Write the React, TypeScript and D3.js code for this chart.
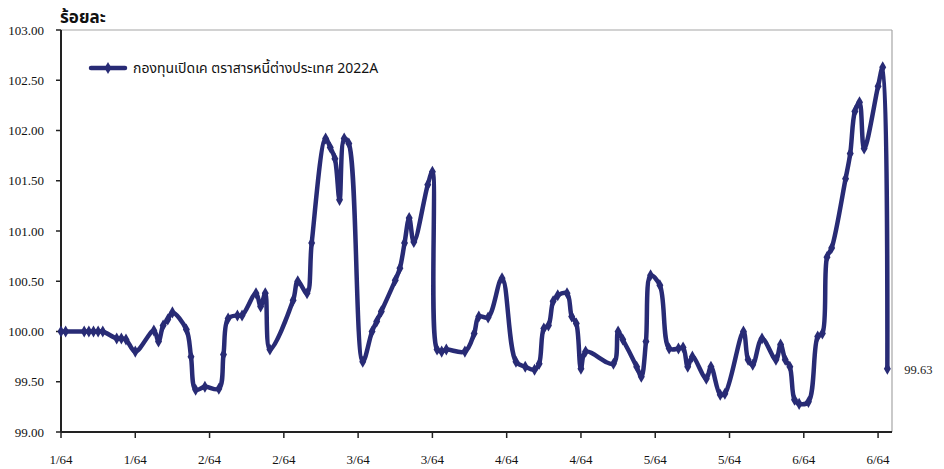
import React from "react";
import * as d3 from "d3";

const dates: string[] = [
  "2021-01-01","2021-01-02","2021-01-06","2021-01-07","2021-01-08","2021-01-09","2021-01-10",
  "2021-01-13","2021-01-14","2021-01-15","2021-01-17","2021-01-21","2021-01-22","2021-01-23",
  "2021-01-24","2021-01-25","2021-01-28","2021-01-29","2021-01-30","2021-02-01","2021-02-04",
  "2021-02-05","2021-02-06","2021-02-08","2021-02-09","2021-02-12","2021-02-13","2021-02-14",
  "2021-02-15","2021-02-20","2021-02-21","2021-02-23","2021-02-24","2021-02-27","2021-02-28",
  "2021-03-01","2021-03-02","2021-03-03","2021-03-04","2021-03-07","2021-03-09","2021-03-10",
  "2021-03-11","2021-03-14","2021-03-15","2021-03-16","2021-03-17","2021-03-18","2021-03-21",
  "2021-03-22","2021-03-23","2021-03-24","2021-03-25","2021-03-29","2021-03-31","2021-04-01",
  "2021-04-03","2021-04-06","2021-04-09","2021-04-11","2021-04-13","2021-04-14","2021-04-15",
  "2021-04-16","2021-04-17","2021-04-18","2021-04-20","2021-04-21","2021-04-22","2021-04-23",
  "2021-04-24","2021-04-30","2021-05-01","2021-05-02","2021-05-05","2021-05-06","2021-05-07",
  "2021-05-08","2021-05-10","2021-05-12","2021-05-14","2021-05-15","2021-05-16","2021-05-17",
  "2021-05-20","2021-05-21","2021-05-23","2021-05-24","2021-05-28","2021-05-29","2021-05-30",
  "2021-06-01","2021-06-04","2021-06-05","2021-06-06","2021-06-07","2021-06-08","2021-06-09",
  "2021-06-11","2021-06-13","2021-06-14","2021-06-15","2021-06-16","2021-06-19","2021-06-20",
  "2021-06-21","2021-06-22","2021-06-23","2021-06-26","2021-06-27","2021-06-28",
];

const values: number[] = [
  100.0,100.0,100.0,100.0,100.0,100.0,100.0,
  99.93,99.93,99.92,99.8,100.01,99.9,100.06,
  100.12,100.19,100.02,99.75,99.42,99.45,99.43,
  99.77,100.13,100.16,100.16,100.38,100.25,100.38,
  99.82,100.31,100.5,100.38,100.88,101.92,101.83,
  101.72,101.31,101.92,101.87,99.7,100.0,100.1,
  100.2,100.51,100.63,100.88,101.13,100.89,101.46,
  101.59,99.82,99.8,99.82,99.8,99.98,100.15,
  100.14,100.53,99.7,99.65,99.62,99.68,100.03,
  100.06,100.3,100.36,100.38,100.15,100.08,99.63,
  99.8,99.68,100.0,99.92,99.65,99.55,99.9,
  100.56,100.46,99.83,99.83,99.84,99.65,99.75,
  99.53,99.65,99.37,99.38,100.0,99.72,99.67,
  99.93,99.72,99.87,99.72,99.65,99.32,99.28,
  99.3,99.95,99.98,100.74,100.83,101.52,101.77,
  102.19,102.28,101.82,102.44,102.63,99.63,
];

const yTicks: number[] = [99.0, 99.5, 100.0, 100.5, 101.0, 101.5, 102.0, 102.5, 103.0];
const xTickDates: string[] = [
  "2021-01-01","2021-01-17","2021-02-02","2021-02-18","2021-03-06","2021-03-22",
  "2021-04-07","2021-04-23","2021-05-09","2021-05-25","2021-06-10","2021-06-26",
];
const xTickLabels: string[] = ["1/64","1/64","2/64","2/64","3/64","3/64","4/64","4/64","5/64","5/64","6/64","6/64"];
const seriesName = "กองทุนเปิดเค ตราสารหนี้ต่างประเทศ 2022A";
const yTitle = "ร้อยละ";
const lastLabel = "99.63";

const W = 944;
const H = 469;
const left = 61;
const right = 892;
const top = 30;
const bottom = 432;
const color = "#282b75";

const parse = d3.timeParse("%Y-%m-%d");

export default function App() {
  const data = dates.map((d, i) => ({ date: parse(d) as Date, value: values[i] }));
  const x = d3
    .scaleTime()
    .domain([parse("2021-01-01") as Date, parse("2021-06-29") as Date])
    .range([left, right]);
  const y = d3.scaleLinear().domain([99, 103]).range([bottom, top]);
  const line = d3
    .line<{ date: Date; value: number }>()
    .x((d) => x(d.date))
    .y((d) => y(d.value))
    .curve(d3.curveCatmullRom.alpha(0.5));
  const diamond = d3.symbol().type(d3.symbolDiamond).size(42)() as string;
  const last = data[data.length - 1];
  const serif = "'Liberation Serif', 'Times New Roman', serif";
  const thai = "'Noto Sans Thai', 'Noto Sans Thai UI', 'Loma', 'Garuda', 'Liberation Sans', Arial, sans-serif";

  return (
    <svg width={W} height={H} style={{ position: "absolute", left: 0, top: 0, background: "#fff" }}>
      <rect x={0} y={0} width={W} height={H} fill="#fff" />
      {/* frame */}
      <line x1={left} x2={right} y1={top} y2={top} stroke="#a6a6a6" strokeWidth={1.2} />
      <line x1={right} x2={right} y1={top} y2={bottom} stroke="#a6a6a6" strokeWidth={1.2} />
      {/* y axis */}
      <line x1={left} x2={left} y1={top} y2={bottom} stroke="#222" strokeWidth={2} />
      {yTicks.map((t) => (
        <g key={t}>
          <line x1={left - 5} x2={left} y1={y(t)} y2={y(t)} stroke="#222" strokeWidth={1.5} />
          <text x={44} y={y(t) + 4.5} textAnchor="end" fontFamily={serif} fontSize={13} fill="#111">
            {t.toFixed(2)}
          </text>
        </g>
      ))}
      {/* x axis */}
      <line x1={left} x2={right} y1={bottom} y2={bottom} stroke="#222" strokeWidth={2} />
      {xTickDates.map((d, i) => {
        const xx = x(parse(d) as Date);
        return (
          <g key={d}>
            <line x1={xx} x2={xx} y1={bottom} y2={bottom + 6} stroke="#222" strokeWidth={1.5} />
            <text x={xx} y={464} textAnchor="middle" fontFamily={serif} fontSize={13} fill="#111">
              {xTickLabels[i]}
            </text>
          </g>
        );
      })}
      {/* title */}
      <text x={60} y={23} fontFamily={thai} fontWeight="bold" fontSize={17} fill="#111">
        {yTitle}
      </text>
      {/* series */}
      <path d={line(data) as string} fill="none" stroke={color} strokeWidth={4.5} strokeLinejoin="round" />
      {data.map((d, i) => (
        <path key={i} d={diamond} transform={`translate(${x(d.date)},${y(d.value)})`} fill={color} />
      ))}
      <text x={x(last.date) + 17} y={y(last.value) + 5} fontFamily={serif} fontSize={12.5} fill="#222">
        {lastLabel}
      </text>
      {/* legend */}
      <line x1={91} x2={125} y1={68} y2={68} stroke={color} strokeWidth={4.5} strokeLinecap="round" />
      <path d={diamond} transform="translate(108,68)" fill={color} />
      <text x={133} y={73} fontFamily={thai} fontSize={14} fill="#111">
        {seriesName}
      </text>
    </svg>
  );
}
